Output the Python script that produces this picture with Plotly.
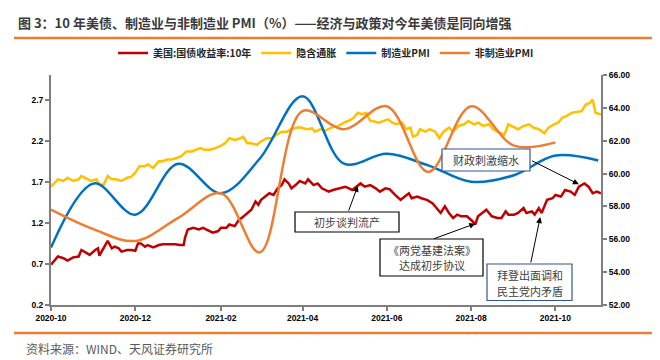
import plotly.graph_objects as go

# ---------------- data ----------------
us10y_dates = [
    "2020-10-01", "2020-10-06", "2020-10-10", "2020-10-13", "2020-10-17", "2020-10-21", "2020-10-23",
    "2020-10-27", "2020-10-29", "2020-11-02", "2020-11-04", "2020-11-05", "2020-11-08", "2020-11-11",
    "2020-11-14", "2020-11-16", "2020-11-19", "2020-11-21", "2020-11-25", "2020-11-28", "2020-12-01",
    "2020-12-03", "2020-12-05", "2020-12-08", "2020-12-10", "2020-12-14", "2020-12-18", "2020-12-21",
    "2020-12-25", "2020-12-30", "2021-01-02", "2021-01-05", "2021-01-06", "2021-01-08", "2021-01-12",
    "2021-01-16", "2021-01-19", "2021-01-23", "2021-01-26", "2021-01-30", "2021-02-01", "2021-02-05",
    "2021-02-07", "2021-02-11", "2021-02-14", "2021-02-16", "2021-02-20", "2021-02-23", "2021-02-26",
    "2021-02-28", "2021-03-02", "2021-03-05", "2021-03-08", "2021-03-11", "2021-03-14", "2021-03-17",
    "2021-03-19", "2021-03-22", "2021-03-24", "2021-03-27", "2021-03-30", "2021-04-03", "2021-04-05",
    "2021-04-09", "2021-04-12", "2021-04-15", "2021-04-17", "2021-04-20", "2021-04-23", "2021-04-27",
    "2021-05-02", "2021-05-07", "2021-05-10", "2021-05-13", "2021-05-16", "2021-05-20", "2021-05-24",
    "2021-05-27", "2021-05-31", "2021-06-03", "2021-06-07", "2021-06-11", "2021-06-14", "2021-06-17",
    "2021-06-19", "2021-06-23", "2021-06-26", "2021-06-30", "2021-07-04", "2021-07-07", "2021-07-10",
    "2021-07-13", "2021-07-16", "2021-07-19", "2021-07-22", "2021-07-25", "2021-07-29", "2021-08-02",
    "2021-08-04", "2021-08-06", "2021-08-09", "2021-08-12", "2021-08-16", "2021-08-20", "2021-08-23",
    "2021-08-26", "2021-08-28", "2021-09-01", "2021-09-04", "2021-09-08", "2021-09-10", "2021-09-14",
    "2021-09-16", "2021-09-19", "2021-09-21", "2021-09-25", "2021-09-29", "2021-10-01", "2021-10-05",
    "2021-10-08", "2021-10-12", "2021-10-15", "2021-10-18", "2021-10-22", "2021-10-25", "2021-10-28",
    "2021-10-31", "2021-11-03",
]
us10y_values = [
    0.69, 0.79, 0.77, 0.74, 0.78, 0.79, 0.87,
    0.83, 0.81, 0.87, 0.89, 0.80, 0.89, 0.98,
    0.89, 0.91, 0.89, 0.85, 0.87, 0.87, 0.86,
    0.95, 0.95, 0.91, 0.93, 0.90, 0.93, 0.94,
    0.94, 0.94, 0.93, 0.93, 1.02, 1.12, 1.14,
    1.12, 1.14, 1.10, 1.08, 1.10, 1.14, 1.14,
    1.18, 1.16, 1.24, 1.26, 1.32, 1.36, 1.46,
    1.42, 1.48, 1.52, 1.56, 1.54, 1.62, 1.66,
    1.73, 1.68, 1.62, 1.66, 1.71, 1.68, 1.73,
    1.66, 1.68, 1.62, 1.60, 1.58, 1.60, 1.62,
    1.64, 1.60, 1.64, 1.68, 1.64, 1.66, 1.62,
    1.58, 1.62, 1.61, 1.54, 1.48, 1.52, 1.56,
    1.50, 1.52, 1.50, 1.48, 1.44, 1.38, 1.32,
    1.40, 1.32, 1.26, 1.30, 1.28, 1.28, 1.22,
    1.18, 1.28, 1.32, 1.36, 1.28, 1.26, 1.26,
    1.34, 1.30, 1.30, 1.32, 1.38, 1.32, 1.34,
    1.30, 1.38, 1.32, 1.48, 1.50, 1.54, 1.52,
    1.60, 1.58, 1.54, 1.64, 1.68, 1.64, 1.56,
    1.58, 1.56,
]

breakeven_dates = [
    "2020-10-01", "2020-10-06", "2020-10-10", "2020-10-13", "2020-10-17", "2020-10-21", "2020-10-23",
    "2020-10-27", "2020-10-30", "2020-11-03", "2020-11-05", "2020-11-08", "2020-11-11", "2020-11-14",
    "2020-11-17", "2020-11-21", "2020-11-25", "2020-11-28", "2020-12-01", "2020-12-04", "2020-12-08",
    "2020-12-10", "2020-12-14", "2020-12-18", "2020-12-21", "2020-12-24", "2020-12-27", "2020-12-31",
    "2021-01-03", "2021-01-07", "2021-01-11", "2021-01-14", "2021-01-17", "2021-01-20", "2021-01-24",
    "2021-01-28", "2021-01-31", "2021-02-04", "2021-02-07", "2021-02-11", "2021-02-15", "2021-02-17",
    "2021-02-20", "2021-02-23", "2021-02-27", "2021-03-02", "2021-03-06", "2021-03-10", "2021-03-13",
    "2021-03-17", "2021-03-21", "2021-03-24", "2021-03-28", "2021-03-31", "2021-04-04", "2021-04-08",
    "2021-04-10", "2021-04-14", "2021-04-17", "2021-04-22", "2021-04-27", "2021-05-01", "2021-05-04",
    "2021-05-08", "2021-05-11", "2021-05-14", "2021-05-17", "2021-05-20", "2021-05-22", "2021-05-26",
    "2021-05-30", "2021-06-02", "2021-06-05", "2021-06-08", "2021-06-12", "2021-06-15", "2021-06-18",
    "2021-06-20", "2021-06-23", "2021-06-25", "2021-06-29", "2021-07-02", "2021-07-06", "2021-07-09",
    "2021-07-12", "2021-07-16", "2021-07-19", "2021-07-23", "2021-07-27", "2021-07-30", "2021-08-03",
    "2021-08-06", "2021-08-10", "2021-08-14", "2021-08-17", "2021-08-21", "2021-08-25", "2021-08-28",
    "2021-09-01", "2021-09-04", "2021-09-08", "2021-09-12", "2021-09-15", "2021-09-19", "2021-09-23",
    "2021-09-26", "2021-09-30", "2021-10-03", "2021-10-06", "2021-10-09", "2021-10-13", "2021-10-17",
    "2021-10-20", "2021-10-23", "2021-10-26", "2021-10-28", "2021-10-30", "2021-11-03",
]
breakeven_values = [
    1.64, 1.73, 1.71, 1.75, 1.71, 1.73, 1.77,
    1.73, 1.71, 1.73, 1.67, 1.66, 1.77, 1.73,
    1.73, 1.71, 1.75, 1.76, 1.81, 1.89, 1.89,
    1.91, 1.87, 1.95, 1.95, 1.97, 1.97, 1.99,
    2.01, 2.07, 2.07, 2.09, 2.11, 2.09, 2.09,
    2.11, 2.13, 2.17, 2.23, 2.21, 2.23, 2.25,
    2.17, 2.17, 2.15, 2.19, 2.23, 2.23, 2.27,
    2.31, 2.31, 2.34, 2.36, 2.36, 2.34, 2.35,
    2.31, 2.34, 2.32, 2.36, 2.38, 2.42, 2.44,
    2.48, 2.54, 2.52, 2.54, 2.44, 2.44, 2.42,
    2.44, 2.46, 2.42, 2.40, 2.42, 2.34, 2.36,
    2.25, 2.27, 2.34, 2.31, 2.34, 2.31, 2.23,
    2.31, 2.36, 2.31, 2.38, 2.40, 2.44, 2.40,
    2.42, 2.38, 2.40, 2.34, 2.31, 2.27, 2.40,
    2.36, 2.34, 2.38, 2.40, 2.36, 2.34, 2.29,
    2.36, 2.40, 2.42, 2.48, 2.50, 2.54, 2.55,
    2.56, 2.64, 2.66, 2.70, 2.54, 2.52,
]

pmi_dates = [
    "2020-10-01", "2020-11-01", "2020-12-01", "2021-01-01", "2021-02-01", "2021-03-01", "2021-04-01",
    "2021-05-01", "2021-06-01", "2021-07-01", "2021-08-01", "2021-09-01", "2021-10-01", "2021-11-01",
]
mfg_pmi = [55.5, 59.4, 57.5, 60.6, 58.8, 60.9, 64.7, 60.6, 61.2, 60.5, 59.5, 59.9, 61.1, 60.8]
nonmfg_pmi = [57.8, 56.6, 55.9, 57.3, 58.8, 55.2, 63.8, 62.7, 64.1, 60.1, 64.1, 61.7, 61.9]

x_tick_vals = ["2020-10-01", "2020-12-01", "2021-02-01", "2021-04-01", "2021-06-01", "2021-08-01", "2021-10-01"]
x_tick_text = ["2020-10", "2020-12", "2021-02", "2021-04", "2021-06", "2021-08", "2021-10"]
left_tick_vals = [0.2, 0.7, 1.2, 1.7, 2.2, 2.7]
left_tick_text = ["0.2", "0.7", "1.2", "1.7", "2.2", "2.7"]

title_text = "图 3：10 年美债、制造业与非制造业 PMI（%）——经济与政策对今年美债是同向增强"
source_text = "资料来源：WIND、天风证券研究所"

# ---------------- figure ----------------
CJK = "Noto Sans CJK SC"
LAT = "Liberation Sans, Arial"
AX = "#7F7F7F"

# plot area in pixels: x 43..593, y 67..297 -> helpers to place layout items in paper units
def px(xp):
    return (xp - 43) / 550.0

def py(yp):
    return (297 - yp) / 230.0

fig = go.Figure()
fig.add_trace(go.Scatter(x=us10y_dates, y=us10y_values, name="美国:国债收益率:10年", mode="lines",
                         line=dict(color="#C00000", width=2.5), yaxis="y"))
fig.add_trace(go.Scatter(x=breakeven_dates, y=breakeven_values, name="隐含通胀", mode="lines",
                         line=dict(color="#FFC000", width=2.5), yaxis="y"))
fig.add_trace(go.Scatter(x=pmi_dates, y=mfg_pmi, name="制造业PMI", mode="lines",
                         line=dict(color="#0070C0", width=2.5, shape="spline", smoothing=1), yaxis="y2"))
fig.add_trace(go.Scatter(x=pmi_dates[:len(nonmfg_pmi)], y=nonmfg_pmi, name="非制造业PMI", mode="lines",
                         line=dict(color="#ED7D31", width=2.5, shape="spline", smoothing=1), yaxis="y2"))

tickfont = dict(family=LAT, size=8.5, color="#000000", weight="bold")

fig.update_layout(
    width=660, height=360, autosize=False,
    margin=dict(l=43, r=67, t=67, b=63),
    paper_bgcolor="white", plot_bgcolor="white",
    showlegend=True,
    legend=dict(orientation="h", x=0.5, xanchor="center", y=1.096, yanchor="middle",
                font=dict(family=CJK, size=10, color="#262626", weight="bold"),
                bgcolor="rgba(0,0,0,0)", itemwidth=30, traceorder="normal"),
    xaxis=dict(type="date", range=["2020-10-01", "2021-11-03"], tickmode="array",
               tickvals=x_tick_vals, ticktext=x_tick_text, showgrid=False, zeroline=False,
               showline=True, linecolor=AX, linewidth=2, ticks="outside", ticklen=4,
               tickcolor=AX, tickwidth=1.5, tickfont=tickfont),
    yaxis=dict(range=[0.2, 3.0], tickmode="array", tickvals=left_tick_vals, ticktext=left_tick_text,
               showgrid=False, zeroline=False, showline=True, linecolor=AX, linewidth=2,
               ticks="outside", ticklen=4, tickcolor=AX, tickwidth=1.5, tickfont=tickfont),
    yaxis2=dict(range=[52, 66], overlaying="y", side="right", tick0=52, dtick=2, tickformat=".2f",
                showgrid=False, zeroline=False, showline=True, linecolor=AX, linewidth=2,
                ticks="outside", ticklen=4, tickcolor=AX, tickwidth=1.5, tickfont=tickfont),
)

# header / footer
fig.add_annotation(xref="paper", yref="paper", x=px(8), y=py(14.5), xanchor="left", yanchor="middle",
                   text=title_text, showarrow=False,
                   font=dict(family=CJK, size=13, color="#3A3A3A", weight="bold"))
fig.add_shape(type="line", xref="paper", yref="paper", x0=px(6), x1=px(645), y0=py(30), y1=py(30),
              line=dict(color="#ED7D31", width=2.5))
fig.add_shape(type="line", xref="paper", yref="paper", x0=px(6), x1=px(645), y0=py(325), y1=py(325),
              line=dict(color="#ED7D31", width=2.5))
fig.add_annotation(xref="paper", yref="paper", x=px(16), y=py(340), xanchor="left", yanchor="middle",
                   text=source_text, showarrow=False,
                   font=dict(family=CJK, size=12, color="#595959"))

# annotation boxes: (x0, y0, x1, y1) in pixels, border colour, lines of text with their y centre
boxes = [
    ((287, 204, 391, 224), "#000000", [("初步谈判流产", 214)]),
    ((372, 231, 475, 268), "#000000", [("《两党基建法案》", 241.7), ("达成初步协议", 257.3)]),
    ((479, 256, 564, 292.5), "#2F5597", [("拜登出面调和", 266.8), ("民主党内矛盾", 282.6)]),
    ((434, 141, 522, 163), "#2F5597", [("财政刺激缩水", 152)]),
]
for (x0, y0, x1, y1), bc, lines in boxes:
    fig.add_shape(type="rect", xref="paper", yref="paper", x0=px(x0), x1=px(x1), y0=py(y1), y1=py(y0),
                  fillcolor="white", line=dict(color=bc, width=1.2), layer="above")
    for txt, yc in lines:
        fig.add_annotation(xref="paper", yref="paper", x=px((x0 + x1) / 2), y=py(yc),
                           xanchor="center", yanchor="middle", text=txt, showarrow=False,
                           font=dict(family=CJK, size=11, color="#404040"))

# arrows (tail -> head), in data coordinates of the left axis
arrows = [
    ("2021-05-04", 1.33, "2021-05-11", 1.65),
    ("2021-07-04", 1.00, "2021-08-04", 1.19),
    ("2021-09-13", 0.70, "2021-09-20", 1.27),
    ("2021-09-13", 1.965, "2021-10-18", 1.67),
]
for tx, ty, hx, hy in arrows:
    fig.add_annotation(x=hx, y=hy, ax=tx, ay=ty, xref="x", yref="y", axref="x", ayref="y",
                       text="", showarrow=True, arrowhead=2, arrowsize=1.2, arrowwidth=1,
                       arrowcolor="#000000", standoff=0, startstandoff=0)

fig.write_html("out.html")
